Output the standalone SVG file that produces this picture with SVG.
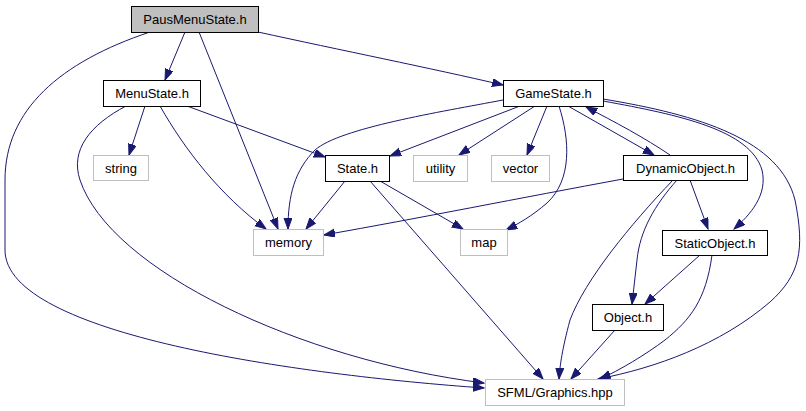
<svg xmlns="http://www.w3.org/2000/svg" width="806" height="411" viewBox="0 0 806 411">
<defs>
<marker id="ah" markerUnits="userSpaceOnUse" markerWidth="13" markerHeight="10" refX="11" refY="4" orient="auto">
<path d="M0,0 L11,4 L0,8 z" fill="#191970" stroke="#191970" stroke-width="1"/>
</marker>
<style>
.n rect{fill:#fff;stroke:#000;stroke-width:1}
.s rect{fill:#fff;stroke:#bfbfbf;stroke-width:1}
.root rect{fill:#bfbfbf;stroke:#000;stroke-width:1}
text{font-family:"Liberation Sans",Arial,sans-serif;font-size:13px;text-anchor:middle;fill:#000}
.e path{fill:none;stroke:#191970;stroke-width:1;marker-end:url(#ah)}
</style>
</defs>
<rect width="806" height="411" fill="#fff"/>
<g class="e" id="edges">
<path d="M185,32 L165,80"/>
<path d="M199,32 L278,229"/>
<path d="M258,32 C340,50 430,68 503,85"/>
<path d="M150,32 C60,62 5,110 5,180 L5,250 C5,335 300,375 484,388"/>
<path d="M145,106 L129,155"/>
<path d="M160,106 C185,150 220,195 266,229"/>
<path d="M187,106 L325,157"/>
<path d="M126,106 C90,125 70,150 80,180 C110,270 300,360 484,383"/>
<path d="M503,100 C440,112 340,128 315,150 C295,170 288,195 288,229"/>
<path d="M520,106 L390,156"/>
<path d="M535,106 L459,155"/>
<path d="M547,106 L527,155"/>
<path d="M559,106 C570,140 572,180 547,203 C532,216 518,224 506,230"/>
<path d="M568,106 L654,155"/>
<path d="M670,155 C645,138 615,122 586,107"/>
<path d="M603,101 C680,115 750,130 762,170 C768,195 750,215 734,229"/>
<path d="M603,99 C700,115 780,140 795,200 C805,250 800,275 770,302 C720,345 655,368 598,379"/>
<path d="M623,179 C520,198 420,218 324,235"/>
<path d="M690,180 L708,229"/>
<path d="M677,180 C655,205 640,230 637,260 L632,304"/>
<path d="M673,180 C630,225 585,280 570,320 C562,350 560,365 559,379"/>
<path d="M700,255 L645,304"/>
<path d="M712,255 C706,300 690,320 665,340 C645,355 620,370 600,379"/>
<path d="M615,330 L571,379"/>
<path d="M345,181 L306,229"/>
<path d="M380,181 L463,229"/>
<path d="M370,181 L543,379"/>
</g>
<g id="PausMenuState" class="root"><rect x="131.5" y="6.5" width="127" height="26"/><text x="195" y="24">PausMenuState.h</text></g>
<g id="MenuState" class="n"><rect x="103.5" y="80.5" width="97" height="26"/><text x="152" y="98">MenuState.h</text></g>
<g id="GameState" class="n"><rect x="503.5" y="80.5" width="100" height="26"/><text x="553.5" y="98">GameState.h</text></g>
<g id="string" class="s"><rect x="93.5" y="155.5" width="55" height="25"/><text x="121" y="172.5">string</text></g>
<g id="State" class="n"><rect x="325.5" y="155.5" width="64" height="26"/><text x="357.5" y="173">State.h</text></g>
<g id="utility" class="s"><rect x="413.5" y="155.5" width="54" height="26"/><text x="440.5" y="173">utility</text></g>
<g id="vector" class="s"><rect x="491.5" y="155.5" width="58" height="26"/><text x="520.5" y="173">vector</text></g>
<g id="DynamicObject" class="n"><rect x="623.5" y="155.5" width="124" height="25"/><text x="685.5" y="172.5">DynamicObject.h</text></g>
<g id="memory" class="s"><rect x="253.5" y="229.5" width="70" height="26"/><text x="288.5" y="247">memory</text></g>
<g id="map" class="s"><rect x="460.5" y="229.5" width="47" height="26"/><text x="484" y="247">map</text></g>
<g id="StaticObject" class="n"><rect x="662.5" y="230.5" width="105" height="25"/><text x="715" y="247.5">StaticObject.h</text></g>
<g id="Object" class="n"><rect x="592.5" y="304.5" width="71" height="26"/><text x="628" y="322">Object.h</text></g>
<g id="SFML" class="s"><rect x="485.5" y="379.5" width="139" height="26"/><text x="555" y="397">SFML/Graphics.hpp</text></g>
</svg>
